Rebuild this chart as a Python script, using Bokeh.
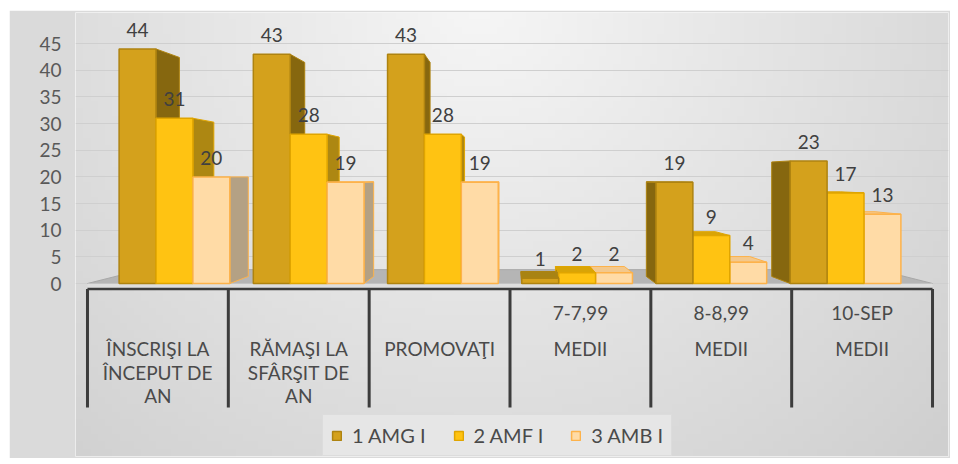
import numpy as np
from bokeh.plotting import figure
from bokeh.models import FixedTicker, Legend, LegendItem, Range1d
from bokeh.core.properties import value
from bokeh.embed import file_html
from bokeh.resources import INLINE

# ---------------- data ----------------
categories = [
    ["ÎNSCRIŞI LA", "ÎNCEPUT DE", "AN"],
    ["RĂMAŞI LA", "SFÂRŞIT DE", "AN"],
    ["PROMOVAŢI"],
    ["7-7,99", "MEDII"],
    ["8-8,99", "MEDII"],
    ["10-SEP", "MEDII"],
]
series_names = ["1 AMG I", "2 AMF I", "3 AMB I"]
amg = [44, 43, 43, 1, 19, 23]
amf = [31, 28, 28, 2, 9, 17]
amb = [20, 19, 19, 2, 4, 13]
y_ticks = [0, 5, 10, 15, 20, 25, 30, 35, 40, 45]

series = [amg, amf, amb]

# ---------------- styling / geometry ----------------
FONT = "Lato"
PX_PER_UNIT = 5.33         # vertical pixels per data unit
Y0_PX = 283                # page y of value 0
def py(page_y):            # page pixel -> data y
    return (Y0_PX - page_y) / PX_PER_UNIT

styles = [
    dict(front="#D4A11C", edge="#AE8310", side="#86670F", top="#A88313"),
    dict(front="#FFC312", edge="#E0A500", side="#AD8712", top="#D9A406"),
    dict(front="#FFDBA6", edge="#FDB24A", side="#B4A184", top="#F3C88C"),
]

VX, VY = 2.5, 20.0         # vanishing point (data coords)
T_BAR = 0.066
T_FLOOR = 0.13
BAR_W = 0.262
PERSP = 0.047

def back(x, y, t):
    return x + (VX - x) * t, y + (VY - y) * t

ML, MT = 9, 10                      # outer white margin (page px)
FL, FR, FT, FB = 75, 948, 12, 456   # frame edges in page px
W, H = 950 - ML, 458 - MT
XPU = 141.0
x0 = -0.5 - (87 - FL) / XPU
x1 = 5.5 + (FR - 932) / XPU
y0, y1 = py(FB), py(FT)

p = figure(width=W, height=H, output_backend="svg", toolbar_location=None,
           x_range=Range1d(x0, x1), y_range=Range1d(y0, y1),
           min_border_left=FL - ML, min_border_right=W + ML - FR, min_border_top=FT - MT,
           min_border_bottom=H + MT - FB)
p.margin = (MT, 0, 0, ML)
p.border_fill_color = "#dadada"
p.outline_line_color = None
p.xaxis.visible = False
p.xgrid.grid_line_color = None
p.ygrid.grid_line_color = "#cfcfcf"
p.ygrid.grid_line_width = 1
p.yaxis.ticker = FixedTicker(ticks=y_ticks)
p.yaxis.axis_line_color = None
p.yaxis.major_tick_line_color = None
p.yaxis.minor_tick_line_color = None
p.yaxis.major_label_text_font = FONT
p.yaxis.major_label_text_font_size = "19px"
p.yaxis.major_label_text_color = "#595959"
p.yaxis.major_label_standoff = 8

# background gradient over the frame
nx, ny = 120, 60
pxs = np.linspace(FL, FR, nx)
pys = np.linspace(FB, FT, ny)          # row 0 = bottom
GX, GY = np.meshgrid(pxs, pys)
r = np.sqrt(((GX - 480) / 520) ** 2 + ((GY - 0) / 520) ** 2)
g = np.clip(246 - 31 * r, 190, 250).astype(np.uint8)
img = np.empty((ny, nx), dtype=np.uint32)
view = img.view(dtype=np.uint8).reshape((ny, nx, 4))
view[:, :, 0] = g
view[:, :, 1] = g
view[:, :, 2] = g
view[:, :, 3] = 255
p.image_rgba(image=[img], x=x0, y=y0, dw=x1 - x0, dh=y1 - y0, level="image")

# floor
n_cat = len(categories)
fl = (-0.5, 0.0); fr = (n_cat - 0.5, 0.0)
bl = back(*fl, T_FLOOR); br = back(*fr, T_FLOOR)
p.patch(x=[fl[0], fr[0], br[0], bl[0]], y=[fl[1], fr[1], br[1], bl[1]],
        fill_color="#b5b5b5", line_color="#a8a8a8", line_width=1)
axis_y = py(288.5)
p.quad(left=-0.5, right=n_cat - 0.5, top=0, bottom=axis_y,
       fill_color="#dedede", line_color=None)

# bars
groups = [([0, 1, 2], [0, 1, 2]), ([3, 4, 5], [2, 1, 0])]
legend_renderers = {}
label_x, label_y, label_t = [], [], []
for cats, order in groups:
    for j in order:
        st = styles[j]
        lefts, rights, tops = [], [], []
        sxs, sys_ = [], []
        txs, tys = [], []
        for i in cats:
            h = series[j][i]
            c = i + (j - 1) * BAR_W - PERSP * (i - 2.5)
            xl, xr = c - BAR_W / 2, c + BAR_W / 2
            lefts.append(xl); rights.append(xr); tops.append(h)
            ex = xr if c < VX else xl
            b_top = back(ex, h, T_BAR); b_bot = back(ex, 0, T_BAR)
            sxs.append([ex, ex, b_top[0], b_bot[0]])
            sys_.append([0, h, b_top[1], b_bot[1]])
            if h < VY:
                bl_ = back(xl, h, T_BAR); br_ = back(xr, h, T_BAR)
                txs.append([xl, xr, br_[0], bl_[0]])
                tys.append([h, h, br_[1], bl_[1]])
            label_x.append(c); label_y.append(h + 19 / PX_PER_UNIT); label_t.append(str(h))
        p.patches(xs=sxs, ys=sys_, fill_color=st["side"], line_color=st["edge"], line_width=1)
        if txs:
            p.patches(xs=txs, ys=tys, fill_color=st["top"], line_color=st["edge"], line_width=1)
        q = p.quad(left=lefts, right=rights, top=tops, bottom=0,
                   fill_color=st["front"], line_color=st["edge"], line_width=1.5)
        legend_renderers.setdefault(j, q)

p.text(x=label_x, y=label_y, text=label_t, text_align="center", text_baseline="middle",
       text_font=value(FONT), text_font_size="19px", text_color="#404040")

# category table lines
bounds = [k - 0.5 for k in range(n_cat + 1)]
p.segment(x0=-0.5, y0=axis_y, x1=n_cat - 0.5, y1=axis_y, line_color="#3c3c3c", line_width=2.5)
p.segment(x0=bounds, y0=[axis_y] * len(bounds), x1=bounds, y1=[py(407)] * len(bounds),
          line_color="#3c3c3c", line_width=3)

# category labels
line_pos = {1: [348], 2: [312, 348], 3: [348, 372, 395]}
cx, cy, ct = [], [], []
for i, lines in enumerate(categories):
    for ln, yy in zip(lines, line_pos[len(lines)]):
        cx.append(i); cy.append(py(yy)); ct.append(ln)
p.text(x=cx, y=cy, text=ct, text_align="center", text_baseline="middle",
       text_font=value(FONT), text_font_size="19px", text_color="#4a4a4a")

legend = Legend(items=[LegendItem(label=series_names[j], renderers=[legend_renderers[j]])
                       for j in range(3)],
                orientation="horizontal", location=(330 - 8 - FL, 0),
                glyph_width=11, glyph_height=11, label_standoff=10, spacing=27,
                padding=8, margin=0,
                label_text_font=FONT, label_text_font_size="20px", label_text_color="#4a4a4a",
                background_fill_color="#e6e6e6", background_fill_alpha=1,
                border_line_color="#d2d2d2")
p.add_layout(legend, "center")

open("out.html", "w").write(file_html(p, INLINE))
